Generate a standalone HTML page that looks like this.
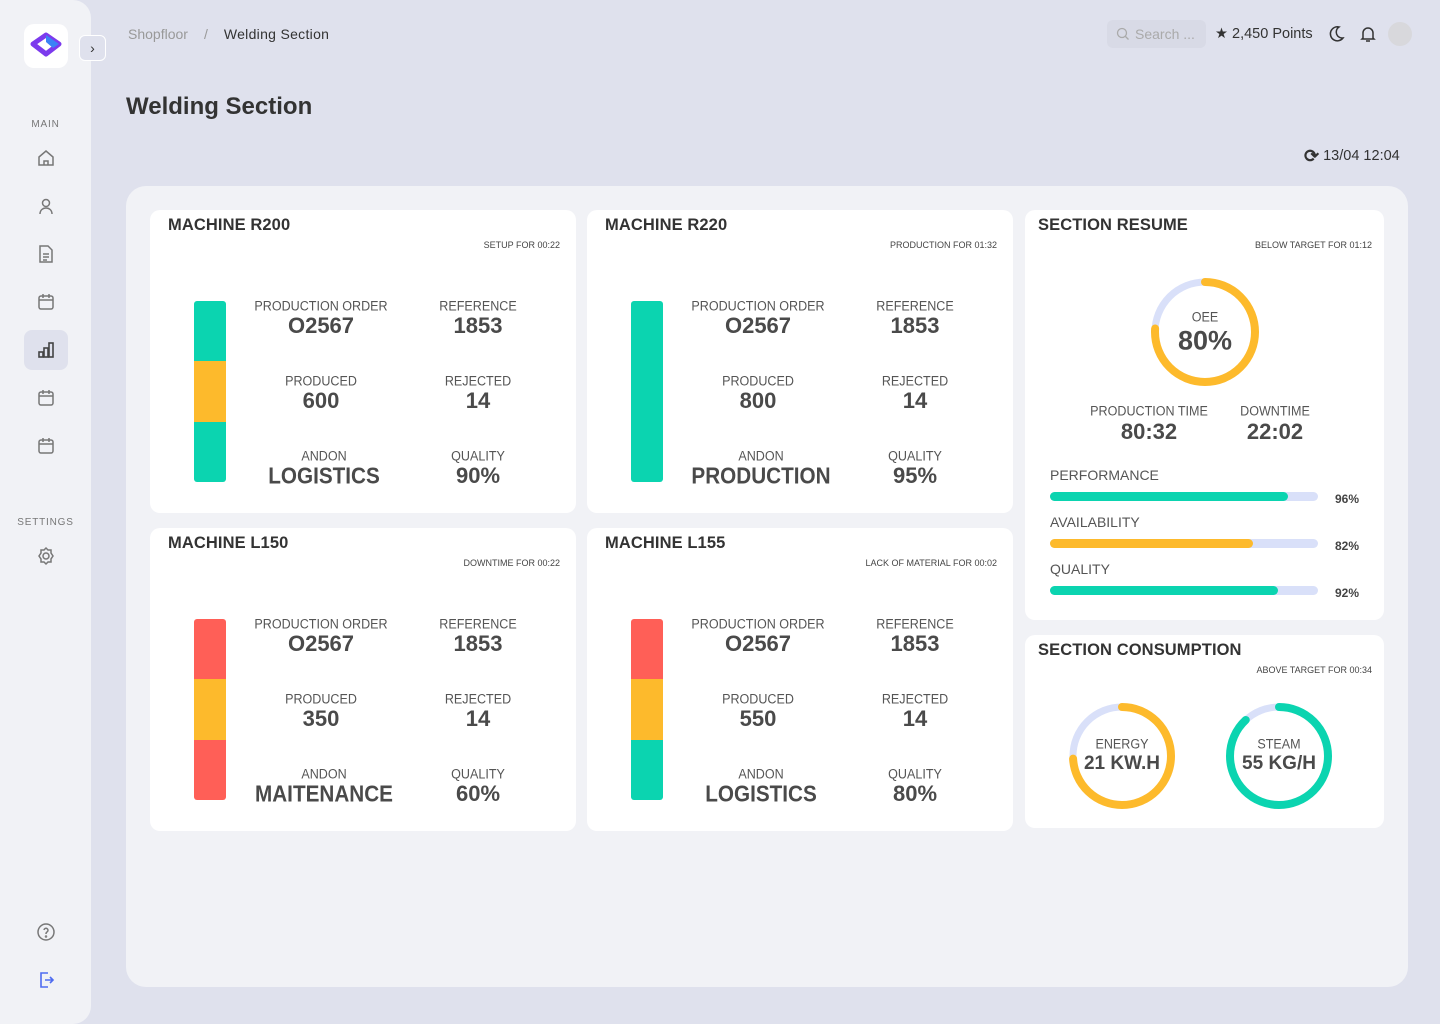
<!DOCTYPE html>
<html><head><meta charset="utf-8">
<style>
*{box-sizing:border-box;margin:0;padding:0}
body{width:1440px;height:1024px;background:#dfe1ed;font-family:"Liberation Sans",sans-serif;color:#444;position:relative;overflow:hidden}
.abs{position:absolute}
.side{left:0;top:0;width:91px;height:1024px;background:#f1f2f6;border-radius:0 18px 18px 0}
.ic{position:absolute;left:34px;width:24px;height:24px}
.panel{left:126px;top:186px;width:1282px;height:801px;background:#f1f2f6;border-radius:20px}
.card{position:absolute;background:#fff;border-radius:10px}
.ct{position:absolute;left:18px;top:6px;font-size:16.5px;font-weight:bold;color:#333;letter-spacing:0.1px}
.cs{position:absolute;right:16px;top:30px;font-size:9px;color:#444;white-space:nowrap}
.lab{position:absolute;font-size:13.5px;color:#555;transform:translate(-50%,-50%) scaleX(0.93);white-space:nowrap}
.val{position:absolute;font-size:22px;font-weight:bold;color:#4a4a4a;transform:translate(-50%,-50%);white-space:nowrap}
.pct{position:absolute;font-size:12px;font-weight:bold;color:#444}
</style></head><body>
<div class="abs side">
  <div class="abs" style="left:24px;top:24px;width:44px;height:44px;background:#fff;border-radius:10px">
    <svg width="44" height="44" viewBox="0 0 44 44"><polygon points="22,11 35,20 22,30 9,20" fill="none" stroke="#7c3aed" stroke-width="5" stroke-linejoin="round"/><polygon points="22,11 35,20 29,24 22,18" fill="#3b82f6"/></svg>
  </div>
  <div class="abs" style="left:79px;top:35px;width:27px;height:26px;border:1px solid #fff;background:#dfe1ed;border-radius:6px;font-size:14px;text-align:center;line-height:24px;color:#333">›</div>
  <div class="abs" style="left:0;width:91px;top:119px;text-align:center;font-size:10px;color:#777;letter-spacing:0.8px">MAIN</div>
  <svg class="ic" style="top:146px" viewBox="0 0 24 24" fill="none" stroke="#777" stroke-width="1.5"><path d="M5 11l7-6 7 6v8H5z"/><path d="M10 19v-4h4v4"/></svg>
  <svg class="ic" style="top:194px" viewBox="0 0 24 24" fill="none" stroke="#777" stroke-width="1.5"><circle cx="12" cy="9" r="3.5"/><path d="M6 20c0-4 3-6 6-6s6 2 6 6"/></svg>
  <svg class="ic" style="top:242px" viewBox="0 0 24 24" fill="none" stroke="#777" stroke-width="1.5"><path d="M6 4h8l4 4v12H6z"/><path d="M9 12h6M9 15h6M9 18h4"/></svg>
  <svg class="ic" style="top:290px" viewBox="0 0 24 24" fill="none" stroke="#777" stroke-width="1.5"><rect x="5" y="6" width="14" height="13" rx="2"/><path d="M5 10h14M9 4v4M15 4v4"/></svg>
  <div class="abs" style="left:24px;top:330px;width:44px;height:40px;background:#dfe1ed;border-radius:8px"></div>
  <svg class="ic" style="top:338px" viewBox="0 0 24 24" fill="none" stroke="#444" stroke-width="1.6"><rect x="5" y="14" width="4" height="5"/><rect x="10" y="10" width="4" height="9"/><rect x="15" y="5" width="4" height="14"/></svg>
  <svg class="ic" style="top:386px" viewBox="0 0 24 24" fill="none" stroke="#777" stroke-width="1.5"><rect x="5" y="6" width="14" height="13" rx="2"/><path d="M5 10h14M9 4v4M15 4v4"/></svg>
  <svg class="ic" style="top:434px" viewBox="0 0 24 24" fill="none" stroke="#777" stroke-width="1.5"><rect x="5" y="6" width="14" height="13" rx="2"/><path d="M5 10h14M9 4v4M15 4v4"/></svg>
  <div class="abs" style="left:0;width:91px;top:517px;text-align:center;font-size:10px;color:#777;letter-spacing:0.8px">SETTINGS</div>
  <svg class="ic" style="top:544px" viewBox="0 0 24 24" fill="none" stroke="#777" stroke-width="1.5"><circle cx="12" cy="12" r="3"/><path d="M12 4l2 2h3v3l2 3-2 3v3h-3l-2 2-2-2H7v-3l-2-3 2-3V6h3z"/></svg>
  <svg class="ic" style="top:920px" viewBox="0 0 24 24" fill="none" stroke="#777" stroke-width="1.5"><circle cx="12" cy="12" r="8"/><path d="M10 10a2 2 0 1 1 3 2c-1 .5-1 1-1 2"/><circle cx="12" cy="16.5" r=".5"/></svg>
  <svg class="ic" style="top:968px" viewBox="0 0 24 24" fill="none" stroke="#4f6cf0" stroke-width="1.6"><path d="M14 5H7v14h7"/><path d="M11 12h8M16 9l3 3-3 3"/></svg>
</div>

<div class="abs" style="left:128px;top:26px;font-size:14px;white-space:nowrap"><span style="color:#999">Shopfloor</span><span style="color:#999;margin:0 16px">/</span><span style="color:#333;letter-spacing:0.3px">Welding Section</span></div>
<div class="abs" style="left:1107px;top:20px;width:99px;height:28px;background:#d8dae6;border-radius:6px;font-size:14px;color:#aaa;line-height:28px;padding-left:28px">Search ...<svg class="abs" style="left:9px;top:7px" width="14" height="14" viewBox="0 0 14 14" fill="none" stroke="#aaa" stroke-width="1.3"><circle cx="6" cy="6" r="4.5"/><path d="M9.5 9.5l3 3"/></svg></div>
<div class="abs" style="left:1215px;top:26px;font-size:14.5px;color:#333;white-space:nowrap">★ 2,450 Points</div>
<svg class="abs" style="left:1326px;top:24px" width="20" height="20" viewBox="0 0 20 20"><path d="M13 3a7 7 0 1 0 4 11A6 6 0 0 1 13 3z" fill="none" stroke="#333" stroke-width="1.5"/></svg>
<svg class="abs" style="left:1358px;top:24px" width="20" height="20" viewBox="0 0 20 20"><path d="M5 14V9a5 5 0 0 1 10 0v5l1 1H4z M8 17h4" fill="none" stroke="#333" stroke-width="1.5"/></svg>
<div class="abs" style="left:1388px;top:22px;width:24px;height:24px;border-radius:50%;background:#d8d8dc"></div>
<div class="abs" style="left:126px;top:93px;font-size:24px;font-weight:bold;color:#333">Welding Section</div>
<div class="abs" style="left:1304px;top:146px;font-size:14.5px;color:#333;white-space:nowrap"><span style="font-size:18px;font-weight:bold;vertical-align:-2px">⟳</span> 13/04 12:04</div>

<div class="abs panel" id="panel"></div>

<script>
const machineNames=["MACHINE R200","MACHINE R220","MACHINE L150","MACHINE L155"];
const machineStatus=["SETUP FOR  00:22","PRODUCTION FOR  01:32","DOWNTIME FOR  00:22","LACK OF MATERIAL FOR  00:02"];
const productionOrders=["O2567","O2567","O2567","O2567"];
const references=["1853","1853","1853","1853"];
const produced=[600,800,350,550];
const rejected=[14,14,14,14];
const andon=["LOGISTICS","PRODUCTION","MAITENANCE","LOGISTICS"];
const quality=["90%","95%","60%","80%"];
const statusSegments=[["ok","setup","ok"],["ok"],["down","setup","down"],["down","setup","ok"]];
const resumeLabels=["PERFORMANCE","AVAILABILITY","QUALITY"];
const resumeValues=[96,82,92];
const oeeValue=80;
const oeeArc=76;
const consumptionLabels=["ENERGY","STEAM"];
const consumptionValues=["21 KW.H","55 KG/H"];
const consumptionArc=[74,88];

const COLORS={ok:"#0bd4b0",setup:"#fdba2c",down:"#ff5f57"};
const body=document.body;
function mk(tag,cls,parent,css){const e=document.createElement(tag);if(cls)e.className=cls;if(css)e.style.cssText=css;parent.appendChild(e);return e;}
const cardPos=[[150,210],[587,210],[150,528],[587,528]];
machineNames.forEach((n,i)=>{
  const [x,y]=cardPos[i];
  const c=mk('div','card',body,`left:${x}px;top:${y}px;width:426px;height:303px`);
  
  
  const t=mk('div','ct',c);t.textContent=n;
  
  
  const s=mk('div','cs',c);s.textContent=machineStatus[i];
  
  
  const segs=statusSegments[i];const bh=181/segs.length;
  segs.forEach((sg,k)=>{
    const b=mk('div','',c,`position:absolute;left:44px;width:32px;top:${91+k*bh}px;height:${bh}px;background:${COLORS[sg]};border-radius:${k==0?'3px 3px ':'0 0 '}${k==segs.length-1?'3px 3px':'0 0'}`);
    
    
  });
  const fields=[["PRODUCTION ORDER",productionOrders[i],171,96],["REFERENCE",references[i],328,96],["PRODUCED",String(produced[i]),171,171],["REJECTED",String(rejected[i]),328,171],["ANDON",andon[i],174,246],["QUALITY",quality[i],328,246]];
  fields.forEach((f,k)=>{
    const l=mk('div','lab',c,`left:${f[2]}px;top:${f[3]}px`);l.textContent=f[0];
    
    
    const v=mk('div','val',c,`left:${f[2]}px;top:${f[3]+20}px`+(k==4?';font-size:23px;transform:translate(-50%,-50%) scaleX(0.9)':''));v.textContent=f[1];
    
    
  });
});

function donut(parent,cx,cy,r,frac,color){
  const NS="http://www.w3.org/2000/svg";
  const svg=document.createElementNS(NS,'svg');
  svg.setAttribute('width',r*2+20);svg.setAttribute('height',r*2+20);
  svg.style.cssText=`position:absolute;left:${cx-r-10}px;top:${cy-r-10}px`;
  
  
  const C=2*Math.PI*r;
  const bg=document.createElementNS(NS,'circle');
  bg.setAttribute('cx',r+10);bg.setAttribute('cy',r+10);bg.setAttribute('r',r);bg.setAttribute('fill','none');bg.setAttribute('stroke','#d9e0f9');bg.setAttribute('stroke-width',7);
  
  
  svg.appendChild(bg);
  const a=document.createElementNS(NS,'circle');
  a.setAttribute('cx',r+10);a.setAttribute('cy',r+10);a.setAttribute('r',r);a.setAttribute('fill','none');a.setAttribute('stroke',color);a.setAttribute('stroke-width',8);a.setAttribute('stroke-linecap','round');
  a.setAttribute('stroke-dasharray',`${C*frac/100} ${C}`);a.setAttribute('transform',`rotate(-90 ${r+10} ${r+10})`);
  
  
  svg.appendChild(a);
  parent.appendChild(svg);
}

// Section resume
const rc=mk('div','card',body,'left:1025px;top:210px;width:359px;height:410px');


const rt=mk('div','ct',rc,'left:13px');rt.textContent='SECTION RESUME';


const rs=mk('div','cs',rc,'right:12px');rs.textContent='BELOW TARGET FOR 01:12';


donut(rc,180,122,50,oeeArc,'#fdba2c');
const ol=mk('div','lab',rc,'left:180px;top:107px');ol.textContent='OEE';


const ov=mk('div','val',rc,'left:180px;top:131px;font-size:27px');ov.textContent=oeeValue+'%';


[["PRODUCTION TIME","80:32",124],["DOWNTIME","22:02",250]].forEach(f=>{
  const l=mk('div','lab',rc,`left:${f[2]}px;top:201px`);l.textContent=f[0];
  
  
  const v=mk('div','val',rc,`left:${f[2]}px;top:222px`);v.textContent=f[1];
  
  
});
const trackW=268, scaleMax=108;
function xScale(v){return trackW*v/scaleMax;}
resumeLabels.forEach((lb,i)=>{
  const y=265+i*47;
  const l=mk('div','',rc,`position:absolute;left:25px;top:${y-8}px;font-size:14px;color:#555`);l.textContent=lb;
  
  
  const tr=mk('div','',rc,`position:absolute;left:25px;top:${y+17}px;width:${trackW}px;height:9px;border-radius:5px;background:#d9e0f9`);
  
  
  const f=mk('div','',tr,`position:absolute;left:0;top:0;height:9px;border-radius:5px;width:${xScale(resumeValues[i])}px;background:${i==1?'#fdba2c':'#0bd4b0'}`);
  
  
  const p=mk('div','pct',rc,`left:310px;top:${y+17}px`);p.textContent=resumeValues[i]+'%';
  
  
});

// Section consumption
const cc=mk('div','card',body,'left:1025px;top:635px;width:359px;height:193px');


const ctt=mk('div','ct',cc,'left:13px');ctt.textContent='SECTION CONSUMPTION';


const cs=mk('div','cs',cc,'right:12px');cs.textContent='ABOVE TARGET FOR 00:34';


consumptionLabels.forEach((lb,i)=>{
  const cx=97+i*157;
  donut(cc,cx,121,49,consumptionArc[i],i==0?'#fdba2c':'#0bd4b0');
  const l=mk('div','lab',cc,`left:${cx}px;top:109px`);l.textContent=lb;
  
  
  const v=mk('div','val',cc,`left:${cx}px;top:129px;font-size:19px`);v.textContent=consumptionValues[i];
  
  
});
</script>
</body></html>
